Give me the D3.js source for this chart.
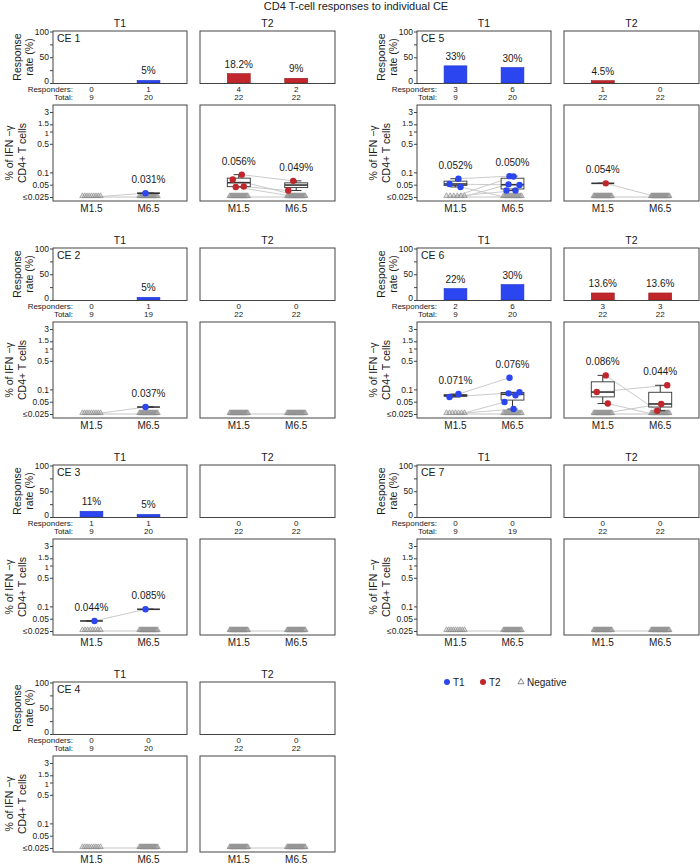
<!DOCTYPE html>
<html lang="en">
<head>
<meta charset="UTF-8">
<title>CD4 T-cell responses to individual CE</title>
<script src="https://d3js.org/d3.v7.min.js"></script>
<style>
  body { margin: 0; background: #fff; }
  text { font-family: "Liberation Sans", Arial, sans-serif; fill: #1a1a1a; }
</style>
</head>
<body>
<svg width="700" height="864"></svg>
<script>
// chart data
const ceNames = ["CE 1", "CE 2", "CE 3", "CE 4", "CE 5", "CE 6", "CE 7"];
const groups = ["T1", "T2"];
const visits = ["M1.5", "M6.5"];

// responders / totals per CE, [M1.5, M6.5]
const respT1 = [[0, 1], [0, 1], [1, 1], [0, 0], [3, 6], [2, 6], [0, 0]];
const totalT1 = [[9, 20], [9, 19], [9, 20], [9, 20], [9, 20], [9, 20], [9, 19]];
const respT2 = [[4, 2], [0, 0], [0, 0], [0, 0], [1, 0], [3, 3], [0, 0]];
const totalT2 = [[22, 22], [22, 22], [22, 22], [22, 22], [22, 22], [22, 22], [22, 22]];

// response rate labels as printed above the bars
const rateLabelT1 = [["", "5%"], ["", "5%"], ["11%", "5%"], ["", ""], ["33%", "30%"], ["22%", "30%"], ["", ""]];
const rateLabelT2 = [["18.2%", "9%"], ["", ""], ["", ""], ["", ""], ["4.5%", ""], ["13.6%", "13.6%"], ["", ""]];

// % IFN-g+ of CD4 T cells for responders, paired [M1.5, M6.5]
// 0 = negative (<= 0.025), null = not sampled
const pairsT1 = [
  [[0, 0.031]],
  [[0, 0.037]],
  [[0.044, 0.085]],
  [],
  [[0.070, 0.081], [0.052, 0.049], [0.044, 0], [0, 0.079], [0, 0.051], [0, 0.036], [null, 0.036]],
  [[0.077, 0.193], [0.065, 0.085], [0, 0.049], [0, 0.033], [null, 0.080], [null, 0.072]],
  []
];
const pairsT2 = [
  [[0.088, 0.062], [0.067, 0], [0.045, 0.036], [0.044, 0]],
  [],
  [],
  [],
  [[0.054, 0]],
  [[0.22, 0.030], [0.086, 0.126], [0.045, 0], [0, 0.044]],
  []
];

const rateTicks = [0, 25, 50, 75, 100];
const valTicks = [0.025, 0.05, 0.1, 0.5, 1, 1.5, 3];

const colors = { T1: "#2b46f0", T2: "#c0262b" };
const barStroke = { T1: "#1f35c4", T2: "#9a1c20" };

// layout
const colDx = [0, 364];
const rowDy = 217;
const frameX = [[53, 187], [200, 335]];
const jit = [3, -6, 5, -3, 7, -8, 1, -4];

const svg = d3.select("svg");

svg.append("text")
  .attr("x", 356).attr("y", 10)
  .attr("text-anchor", "middle")
  .style("font-size", "11px")
  .text("CD4 T-cell responses to individual CE");

ceNames.forEach((ce, i) => {
  const col = i < 4 ? 0 : 1;
  const row = i < 4 ? i : i - 4;
  const dx = colDx[col], dy = row * rowDy;
  const g = svg.append("g");

  const yRate = d3.scaleLinear().domain([0, 100]).range([83 + dy, 31.5 + dy]);
  const yVal = d3.scaleLog().domain([0.025, 3]).range([197 + dy, 112 + dy]);

  groups.forEach((grp, gi) => {
    const x0 = dx + frameX[gi][0], x1 = dx + frameX[gi][1];
    const xs = d3.scalePoint().domain(visits).range([x0, x1]).padding(0.675);
    const barW = xs.step() * 0.4;
    const resp = (gi === 0 ? respT1 : respT2)[i];
    const tot = (gi === 0 ? totalT1 : totalT2)[i];
    const lab = (gi === 0 ? rateLabelT1 : rateLabelT2)[i];
    const pairs = (gi === 0 ? pairsT1 : pairsT2)[i];

    // strip header
    g.append("text")
      .attr("x", (x0 + x1) / 2).attr("y", 23 + dy)
      .attr("text-anchor", "middle").attr("dominant-baseline", "central")
      .style("font-size", "10.5px")
      .text(grp);

    // ---- response rate panel
    g.append("rect")
      .attr("x", x0).attr("y", 31 + dy)
      .attr("width", x1 - x0).attr("height", 52.5)
      .attr("fill", "#fff");

    const bars = visits.map((v, vi) => ({ v, r: resp[vi], t: tot[vi], label: lab[vi] }));
    g.selectAll(null)
      .data(bars.filter(d => d.r > 0))
      .join("rect")
      .attr("x", d => xs(d.v) - barW / 2)
      .attr("y", d => yRate(d.r / d.t * 100))
      .attr("width", barW)
      .attr("height", d => yRate(0) - yRate(d.r / d.t * 100))
      .attr("fill", colors[grp])
      .attr("stroke", barStroke[grp])
      .attr("stroke-width", 0.6);

    g.selectAll(null)
      .data(bars.filter(d => d.label))
      .join("text")
      .attr("x", d => xs(d.v))
      .attr("y", d => yRate(d.r / d.t * 100) - 6)
      .attr("text-anchor", "middle")
      .style("font-size", "10px")
      .text(d => d.label);

    g.append("rect")
      .attr("x", x0).attr("y", 31 + dy)
      .attr("width", x1 - x0).attr("height", 52.5)
      .attr("fill", "none").attr("stroke", "#444").attr("stroke-width", 1);

    // responders / totals
    g.selectAll(null)
      .data(bars)
      .join("text")
      .attr("x", d => xs(d.v)).attr("y", 89 + dy)
      .attr("text-anchor", "middle").attr("dominant-baseline", "central")
      .style("font-size", "8px")
      .text(d => d.r);
    g.selectAll(null)
      .data(bars)
      .join("text")
      .attr("x", d => xs(d.v)).attr("y", 97.5 + dy)
      .attr("text-anchor", "middle").attr("dominant-baseline", "central")
      .style("font-size", "8px")
      .text(d => d.t);

    // ---- magnitude panel
    g.append("rect")
      .attr("x", x0).attr("y", 105 + dy)
      .attr("width", x1 - x0).attr("height", 96)
      .attr("fill", "#fff");

    const xA = xs(visits[0]), xB = xs(visits[1]);
    const yv = v => yVal(v > 0 ? v : 0.025);
    const nNeg = tot.map((t, vi) => t - resp[vi]);

    // negatives paired across visits
    if (nNeg[0] > 0 && nNeg[1] > 0) {
      g.append("line")
        .attr("x1", xA).attr("x2", xB)
        .attr("y1", yVal(0.025)).attr("y2", yVal(0.025))
        .attr("stroke", "#c4c4c4").attr("stroke-width", 1);
    }
    g.selectAll(null)
      .data(pairs.filter(p => p[0] !== null && p[1] !== null))
      .join("line")
      .attr("x1", (p, k) => xA + jit[k % jit.length])
      .attr("y1", p => yv(p[0]))
      .attr("x2", (p, k) => xB + jit[(k + 3) % jit.length])
      .attr("y2", p => yv(p[1]))
      .attr("stroke", "#c4c4c4").attr("stroke-width", 0.9);

    // negative triangles
    const tri = d3.symbol(d3.symbolTriangle, 13);
    visits.forEach((v, vi) => {
      const n = nNeg[vi];
      const idx = d3.range(n);
      g.selectAll(null)
        .data(idx)
        .join("path")
        .attr("d", tri)
        .attr("transform", k => `translate(${xs(v) + (n > 1 ? (k / (n - 1) - 0.5) * 18 : 0)},${yVal(0.025) - 1})`)
        .attr("fill", "#a8a8a8").attr("fill-opacity", 0.35)
        .attr("stroke", "#8c8c8c").attr("stroke-width", 0.7);
    });

    // box plots of responders
    visits.forEach((v, vi) => {
      const vals = pairs.map(p => p[vi]).filter(x => x > 0).sort(d3.ascending);
      if (!vals.length) return;
      const q1 = d3.quantile(vals, 0.25), med = d3.quantile(vals, 0.5), q3 = d3.quantile(vals, 0.75);
      const iqr = q3 - q1;
      const lo = d3.min(vals.filter(x => x >= q1 - 1.5 * iqr));
      const hi = d3.max(vals.filter(x => x <= q3 + 1.5 * iqr));
      const cx = xs(v), capW = barW * 0.45;
      const bx = g.append("g").attr("stroke", "#333");
      bx.append("line").attr("x1", cx).attr("x2", cx).attr("y1", yVal(hi)).attr("y2", yVal(q3));
      bx.append("line").attr("x1", cx).attr("x2", cx).attr("y1", yVal(q1)).attr("y2", yVal(lo));
      bx.append("line").attr("x1", cx - capW / 2).attr("x2", cx + capW / 2).attr("y1", yVal(hi)).attr("y2", yVal(hi));
      bx.append("line").attr("x1", cx - capW / 2).attr("x2", cx + capW / 2).attr("y1", yVal(lo)).attr("y2", yVal(lo));
      bx.append("rect")
        .attr("x", cx - barW / 2).attr("y", yVal(q3))
        .attr("width", barW).attr("height", Math.max(0, yVal(q1) - yVal(q3)))
        .attr("fill", "#fff").attr("fill-opacity", 0.6).attr("stroke-width", 0.9);
      bx.append("line")
        .attr("x1", cx - barW / 2).attr("x2", cx + barW / 2)
        .attr("y1", yVal(med)).attr("y2", yVal(med))
        .attr("stroke-width", 1.6);

      g.append("text")
        .attr("x", cx).attr("y", yVal(d3.max(vals)) - 10)
        .attr("text-anchor", "middle")
        .style("font-size", "10px")
        .text(d3.format(".3f")(med) + "%");
    });

    // responder points
    visits.forEach((v, vi) => {
      g.selectAll(null)
        .data(pairs.map((p, k) => ({ val: p[vi], k })).filter(d => d.val > 0))
        .join("circle")
        .attr("cx", d => xs(v) + jit[(d.k + 3 * vi) % jit.length])
        .attr("cy", d => yVal(d.val))
        .attr("r", 3.2)
        .attr("fill", colors[grp]);
    });

    g.append("rect")
      .attr("x", x0).attr("y", 105 + dy)
      .attr("width", x1 - x0).attr("height", 96)
      .attr("fill", "none").attr("stroke", "#444").attr("stroke-width", 1);

    // visit labels
    g.selectAll(null)
      .data(visits)
      .join("text")
      .attr("x", d => xs(d)).attr("y", 208.5 + dy)
      .attr("text-anchor", "middle").attr("dominant-baseline", "central")
      .style("font-size", "10px")
      .text(d => d);

    // axes on the T1 column only
    if (gi === 0) {
      const ax1 = g.append("g")
        .attr("transform", `translate(${x0},0)`)
        .call(d3.axisLeft(yRate).tickValues(rateTicks)
          .tickFormat(d => d % 50 === 0 ? d : "").tickSize(3).tickPadding(1));
      const ax2 = g.append("g")
        .attr("transform", `translate(${x0},0)`)
        .call(d3.axisLeft(yVal).tickValues(valTicks)
          .tickFormat(d => d === 0.025 ? "≤0.025" : d).tickSize(3).tickPadding(1));
      [ax1, ax2].forEach(ax => {
        ax.select(".domain").remove();
        ax.selectAll(".tick line").attr("stroke", "#444");
        ax.selectAll(".tick text").style("font-size", "8.5px")
          .style("font-family", '"Liberation Sans", Arial, sans-serif').attr("fill", "#333");
      });
      // nudge crowded labels apart a little
      ax1.selectAll(".tick text").filter(d => d === 0).attr("dy", "0em");
      ax2.selectAll(".tick text").filter(d => d === 1.5 || d === 1)
        .style("font-size", "8px")
        .attr("dy", d => d === 1.5 ? "0.15em" : "0.45em");

      g.append("text")
        .attr("x", dx + 73).attr("y", 89.5 + dy)
        .attr("text-anchor", "end").attr("dominant-baseline", "central")
        .style("font-size", "8px").text("Responders:");
      g.append("text")
        .attr("x", dx + 73).attr("y", 97.5 + dy)
        .attr("text-anchor", "end").attr("dominant-baseline", "central")
        .style("font-size", "8px").text("Total:");

      g.append("text")
        .attr("x", x0 + 4).attr("y", 38 + dy)
        .attr("dominant-baseline", "central")
        .style("font-size", "10.5px").text(ce);

      const ty = (31 + 83) / 2 + dy, by = (105 + 201) / 2 + dy;
      [["Response", 17], ["rate (%)", 29]].forEach(([t, x]) => {
        g.append("text")
          .attr("transform", `translate(${dx + x},${ty}) rotate(-90)`)
          .attr("text-anchor", "middle").attr("dominant-baseline", "central")
          .style("font-size", "10.5px").text(t);
      });
      [["% of IFN −γ", 9], ["CD4+ T cells", 21.5]].forEach(([t, x]) => {
        g.append("text")
          .attr("transform", `translate(${dx + x},${by}) rotate(-90)`)
          .attr("text-anchor", "middle").attr("dominant-baseline", "central")
          .style("font-size", "10.5px").text(t);
      });
    }
  });
});

// legend
const leg = svg.append("g").attr("transform", "translate(0,682)");
const legItems = [
  { label: "T1", x: 447, kind: "dot", color: colors.T1 },
  { label: "T2", x: 483, kind: "dot", color: colors.T2 },
  { label: "Negative", x: 521, kind: "tri" }
];
legItems.forEach(d => {
  if (d.kind === "dot") {
    leg.append("circle").attr("cx", d.x).attr("cy", 0).attr("r", 3).attr("fill", d.color);
  } else {
    leg.append("path").attr("d", d3.symbol(d3.symbolTriangle, 16))
      .attr("transform", `translate(${d.x},0)`)
      .attr("fill", "none").attr("stroke", "#666").attr("stroke-width", 0.8);
  }
  leg.append("text").attr("x", d.x + 6).attr("y", 0)
    .attr("dominant-baseline", "central")
    .style("font-size", "10px").text(d.label);
});
</script>
</body>
</html>
